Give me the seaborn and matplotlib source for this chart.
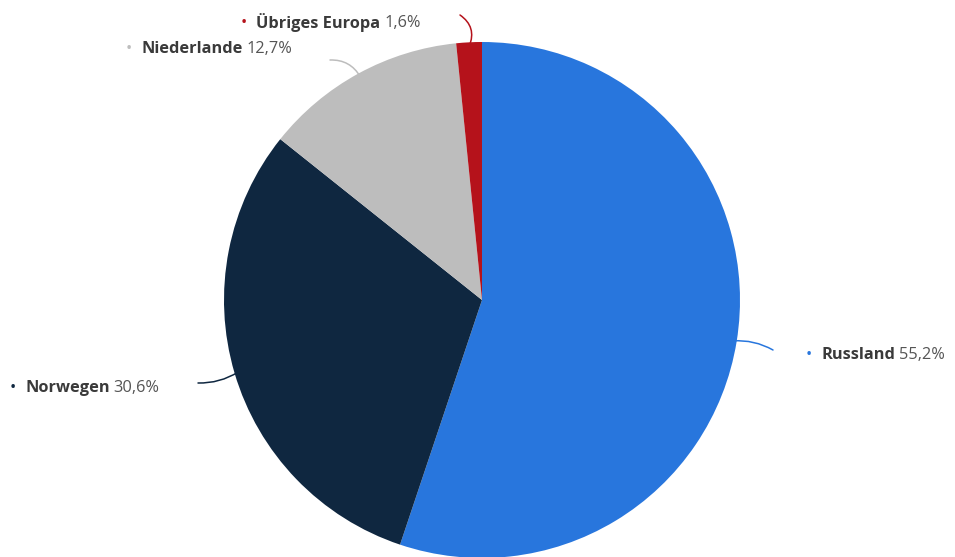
import numpy as np
import matplotlib
matplotlib.use("Agg")
import matplotlib.pyplot as plt
import seaborn as sns

labels = ["Russland", "Norwegen", "Niederlande", "Übriges Europa"]
values = [55.2, 30.6, 12.7, 1.6]
pct_text = ["55,2%", "30,6%", "12,7%", "1,6%"]
colors = ["#2876DD", "#0F2740", "#BDBDBD", "#B5121B"]

sns.set_theme(style="white")
plt.rcParams['font.family'] = ['Open Sans', 'DejaVu Sans']

W, H = 955, 557
fig = plt.figure(figsize=(W / 100, H / 100), dpi=100)
cx, cy, R = 482, 300, 258
ax = fig.add_axes([(cx - R) / W, (H - cy - R) / H, 2 * R / W, 2 * R / H])

wedges, _ = ax.pie(values, colors=colors, startangle=90, counterclock=False,
                   radius=1, wedgeprops=dict(linewidth=0))
ax.set_xlim(-1, 1)
ax.set_ylim(-1, 1)
ax.set_aspect("equal")
ax.axis("off")

def px2d(px, py):
    return ((px - cx) / R, (cy - py) / R)

label_cfg = [
    dict(end=(773, 350), bullet=(809, 355), rad=-0.15),
    dict(end=(198, 383), bullet=(13, 388), rad=-0.15),
    dict(end=(330, 60), bullet=(129, 49), rad=0.3),
    dict(end=(460, 15), bullet=(244, 23), rad=0.4),
]

fig.canvas.draw()
renderer = fig.canvas.get_renderer()
for w, lab, pct, col, cfg in zip(wedges, labels, pct_text, colors, label_cfg):
    ang = np.deg2rad((w.theta1 + w.theta2) / 2)
    edge = (0.985 * np.cos(ang), 0.985 * np.sin(ang))
    end = px2d(*cfg["end"])
    ax.annotate("", xy=end, xytext=edge, xycoords="data",
                arrowprops=dict(arrowstyle="-", color=col, lw=1.1,
                                connectionstyle=f"arc3,rad={cfg['rad']}",
                                shrinkA=0, shrinkB=0),
                annotation_clip=False)
    bx, by = cfg["bullet"]
    fig.text(bx / W, 1 - by / H, "•", color=col, fontsize=12,
             ha="center", va="center")
    t = fig.text((bx + 12) / W, 1 - by / H, lab, color="#3a3a3a",
                 fontsize=11.8, fontweight="bold", ha="left", va="center")
    bb = t.get_window_extent(renderer=renderer)
    fig.text((bb.x1 + 4) / W, 1 - by / H, pct, color="#555555",
             fontsize=11.8, ha="left", va="center")

fig.savefig("out.png", dpi=100)
